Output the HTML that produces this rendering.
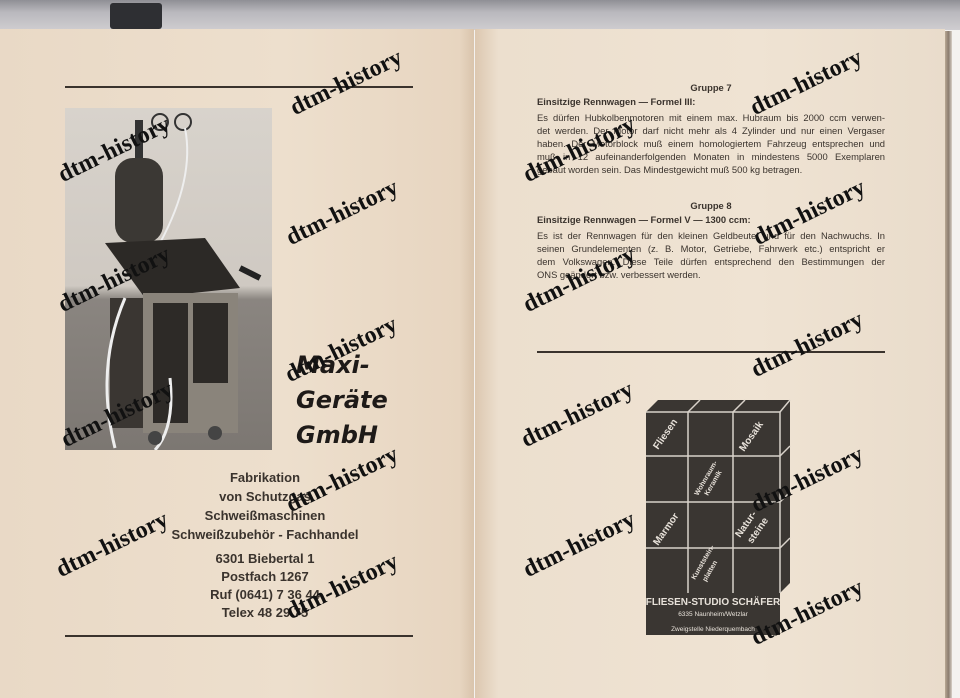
<!DOCTYPE html>
<html><head><meta charset="utf-8"><style>
*{margin:0;padding:0;box-sizing:border-box}
body{width:960px;height:698px;overflow:hidden;background:#f4f2f0;position:relative;font-family:"Liberation Sans",sans-serif;color:#3a332d}
.top{position:absolute;left:0;top:0;width:960px;height:30px;background:linear-gradient(#8f8f95,#b9b8bd 40%,#cfcdd0)}
.tab{position:absolute;left:110px;top:3px;width:52px;height:26px;background:#2e2f33;border-radius:3px}
.lp{position:absolute;left:0;top:29px;width:474px;height:669px;background:linear-gradient(90deg,#e9d9c6,#eddfcd 60%,#e7d5c0 97%,#d9c4ac)}
.rp{position:absolute;left:475px;top:29px;width:470px;height:669px;background:linear-gradient(90deg,#dcc7b0,#ecdfce 5%,#efe3d3 60%,#e9dccb)}
.edge{position:absolute;left:945px;top:31px;width:7px;height:667px;background:linear-gradient(90deg,#b9a894,#8a7c6e,#d8d0c8)}
.rule{position:absolute;height:2px;background:#3a332d}
.wm{position:absolute;font-family:"Liberation Serif",serif;font-weight:bold;font-size:24px;color:#111;transform:rotate(-26deg);transform-origin:0 100%;white-space:nowrap;line-height:24px}
.photo{position:absolute;left:65px;top:108px;width:207px;height:342px;background:linear-gradient(#d8d3cc,#cfc9c2 52%,#8a8580 56%,#7c7772)}
.maxi{position:absolute;left:296px;top:348px;font-family:"DejaVu Sans",sans-serif;font-weight:bold;font-size:24px;line-height:35px;color:#1e1a18;font-style:italic}
.addr{position:absolute;left:150px;width:230px;text-align:center;font-weight:bold;font-size:13px;line-height:19px}
.rt{position:absolute;left:537px;width:348px;font-size:9.4px;line-height:13px}
.rt div{text-align:justify;text-align-last:justify;white-space:nowrap}
.rt div.l{text-align-last:left}
.h{font-weight:bold;position:absolute;left:537px;font-size:9.4px}
.c{position:absolute;left:537px;width:348px;text-align:center;font-weight:bold;font-size:9.4px}
</style></head><body>
<div class="top"></div><div class="tab"></div>
<div class="lp"></div><div class="rp"></div><div class="edge"></div>

<div class="rule" style="left:65px;top:86px;width:348px"></div>
<div class="rule" style="left:65px;top:635px;width:348px"></div>
<div class="photo">
 <svg width="207" height="342" viewBox="0 0 207 342">
  <rect x="50" y="50" width="48" height="85" rx="18" fill="#3b3834"/>
  <rect x="70" y="12" width="8" height="38" fill="#333"/>
  <circle cx="95" cy="14" r="8" fill="none" stroke="#333" stroke-width="2"/>
  <circle cx="118" cy="14" r="8" fill="none" stroke="#333" stroke-width="2"/>
  <path d="M120 20 Q130 70 95 135" stroke="#eee" stroke-width="2" fill="none"/>
  <polygon points="40,135 140,130 175,180 80,190" fill="#2c2926"/>
  <rect x="78" y="185" width="95" height="140" fill="#8a847b"/>
  <rect x="88" y="195" width="35" height="120" fill="#2d2a27"/>
  <rect x="128" y="195" width="35" height="80" fill="#2d2a27"/>
  <rect x="45" y="190" width="33" height="130" fill="#3a3632"/>
  <path d="M175 160 L195 170" stroke="#222" stroke-width="6"/>
  <path d="M60 190 Q30 260 50 340" stroke="#eee" stroke-width="3" fill="none"/>
  <path d="M105 270 Q110 320 90 342" stroke="#eee" stroke-width="3" fill="none"/>
  <circle cx="90" cy="330" r="7" fill="#444"/><circle cx="150" cy="325" r="7" fill="#444"/>
 </svg>
</div>
<div class="maxi">Maxi-<br>Geräte<br>GmbH</div>
<div class="addr" style="top:468px">Fabrikation<br>von Schutzgas<br>Schweißmaschinen<br>Schweißzubehör - Fachhandel</div>
<div class="addr" style="top:550px;line-height:18px">6301 Biebertal 1<br>Postfach 1267<br>Ruf (0641) 7 36 44<br>Telex 48 29 75</div>

<div class="c" style="top:82px">Gruppe 7</div>
<div class="h" style="top:96px">Einsitzige Rennwagen — Formel III:</div>
<div class="rt" style="top:111px">
<div>Es dürfen Hubkolbenmotoren mit einem max. Hubraum bis 2000 ccm verwen-</div>
<div>det werden. Der Motor darf nicht mehr als 4 Zylinder und nur einen Vergaser</div>
<div>haben. Der Motorblock muß einem homologiertem Fahrzeug entsprechen und</div>
<div>muß in 12 aufeinanderfolgenden Monaten in mindestens 5000 Exemplaren</div>
<div class="l">gebaut worden sein. Das Mindestgewicht muß 500 kg betragen.</div></div>
<div class="c" style="top:200px">Gruppe 8</div>
<div class="h" style="top:214px">Einsitzige Rennwagen — Formel V — 1300 ccm:</div>
<div class="rt" style="top:229px">
<div>Es ist der Rennwagen für den kleinen Geldbeutel und für den Nachwuchs. In</div>
<div>seinen Grundelementen (z. B. Motor, Getriebe, Fahrwerk etc.) entspricht er</div>
<div>dem Volkswagen. Diese Teile dürfen entsprechend den Bestimmungen der</div>
<div class="l">ONS geändert bzw. verbessert werden.</div></div>
<div class="rule" style="left:537px;top:351px;width:348px"></div>

<svg style="position:absolute;left:640px;top:398px" width="155" height="240" viewBox="0 0 155 240">
 <polygon points="6,14 18,2 150,2 150,185 140,195 6,195" fill="#3a3632"/>
 <rect x="6" y="195" width="134" height="42" fill="#3a3632"/>
 <g stroke="#d8d2ca" stroke-width="1.5" fill="none">
  <path d="M6 14 H140 V195"/><path d="M48 14 V195 M93 14 V195"/>
  <path d="M6 58 H140 M6 104 H140 M6 150 H140"/>
  <path d="M48 14 L60 2 M93 14 L105 2 M140 14 L150 2 M140 58 L150 48 M140 104 L150 94 M140 150 L150 140"/>
 </g>
 <g fill="#e8e2da" font-family="Liberation Sans,sans-serif" font-size="10" font-weight="bold">
  <text transform="translate(18,52) rotate(-55)">Fliesen</text>
  <text transform="translate(104,54) rotate(-55)">Mosaik</text>
  <text transform="translate(18,148) rotate(-55)">Marmor</text>
  <text transform="translate(100,140) rotate(-55)">Natur-</text>
  <text transform="translate(112,146) rotate(-55)">steine</text>
  <text font-size="7" transform="translate(58,98) rotate(-60)">Wohnraum-</text>
  <text font-size="7" transform="translate(68,98) rotate(-60)">Keramik</text>
  <text font-size="7" transform="translate(55,182) rotate(-60)">Kunststein-</text>
  <text font-size="7" transform="translate(66,184) rotate(-60)">platten</text>
  <text x="73" y="207" text-anchor="middle" font-size="10">FLIESEN-STUDIO SCHÄFER</text>
  <text x="73" y="218" text-anchor="middle" font-size="6.5" font-weight="normal">6335 Naunheim/Wetzlar</text>
  <text x="73" y="233" text-anchor="middle" font-size="6.5" font-weight="normal">Zweigstelle Niederquembach</text>
 </g>
</svg>

<div class="wm" style="left:297px;top:96px">dtm-history</div>
<div class="wm" style="left:65px;top:163px">dtm-history</div>
<div class="wm" style="left:293px;top:226px">dtm-history</div>
<div class="wm" style="left:65px;top:293px">dtm-history</div>
<div class="wm" style="left:292px;top:363px">dtm-history</div>
<div class="wm" style="left:68px;top:428px">dtm-history</div>
<div class="wm" style="left:293px;top:493px">dtm-history</div>
<div class="wm" style="left:63px;top:558px">dtm-history</div>
<div class="wm" style="left:293px;top:600px">dtm-history</div>
<div class="wm" style="left:757px;top:96px">dtm-history</div>
<div class="wm" style="left:530px;top:163px">dtm-history</div>
<div class="wm" style="left:760px;top:226px">dtm-history</div>
<div class="wm" style="left:530px;top:293px">dtm-history</div>
<div class="wm" style="left:758px;top:358px">dtm-history</div>
<div class="wm" style="left:528px;top:428px">dtm-history</div>
<div class="wm" style="left:758px;top:493px">dtm-history</div>
<div class="wm" style="left:530px;top:558px">dtm-history</div>
<div class="wm" style="left:758px;top:626px">dtm-history</div>
</body></html>
